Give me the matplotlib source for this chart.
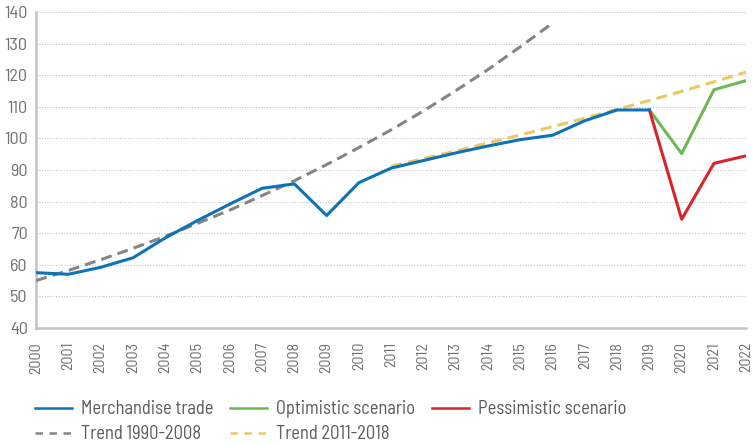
import matplotlib
matplotlib.use("Agg")
import matplotlib.pyplot as plt
from matplotlib.lines import Line2D

years = list(range(2000, 2023))
trade_years = list(range(2000, 2020))
trade = [57.5, 57.0, 59.2, 62.2, 68.5, 74.0, 79.2, 84.2, 85.6, 75.6, 86.0, 90.6,
         93.0, 95.4, 97.6, 99.6, 101.0, 105.6, 109.0, 109.0]
scen_years = [2019, 2020, 2021, 2022]
optimistic = [109.0, 95.2, 115.4, 118.3]
pessimistic = [109.0, 74.4, 92.1, 94.5]
trend1_years = list(range(2000, 2017))
trend1 = [55.0, 58.2, 61.6, 65.2, 69.0, 73.1, 77.3, 81.9, 86.6, 91.7, 97.1,
          102.7, 108.7, 115.1, 121.8, 129.0, 136.5]
trend2_years = list(range(2011, 2023))
trend2 = [91.2, 93.6, 96.0, 98.6, 101.1, 103.7, 106.4, 109.2, 112.0, 114.9, 117.9, 121.0]
labels = ['Merchandise trade', 'Optimistic scenario', 'Pessimistic scenario',
          'Trend 1990-2008', 'Trend 2011-2018']

plt.rcParams['font.family'] = ['Barlow Semi Condensed', 'DejaVu Sans']
plt.rcParams['font.weight'] = 'normal'

fig = plt.figure(figsize=(7.53, 4.45), dpi=100)
ax = fig.add_axes([0.048, 0.263, 0.943, 0.710])

blue = '#0C72BA'
green = '#6DB856'
red = '#D7252B'
grey = '#858585'
yellow = '#EDC862'
dash = (0, (3.6, 2.0))

ax.plot(trade_years, trade, color=blue, lw=2.2, zorder=5)
ax.plot(scen_years, optimistic, color=green, lw=2.2, zorder=4)
ax.plot(scen_years, pessimistic, color=red, lw=2.2, zorder=4)
ax.plot(trend1_years, trend1, color=grey, lw=2.2, ls=dash, zorder=3)
ax.plot(trend2_years, trend2, color=yellow, lw=2.2, ls=dash, zorder=3)

ax.set_xlim(2000, 2022)
ax.set_ylim(40, 140)
ax.set_yticks(range(40, 141, 10))
ax.set_xticks(years)
ax.set_xticklabels([str(y) for y in years], rotation=90)
ax.grid(axis='y', color='#C4C4C4', ls=(0, (1, 1.5)), lw=0.8)
ax.set_axisbelow(True)
for s in ['top', 'right']:
    ax.spines[s].set_visible(False)
for s in ['left', 'bottom']:
    ax.spines[s].set_color('#C3C3C3')
    ax.spines[s].set_linewidth(1.8)
ax.tick_params(axis='y', length=0, labelsize=13, colors='#707070', pad=6)
ax.tick_params(axis='x', length=0, labelsize=11.5, colors='#707070', pad=10)

ldash = (0, (3.0, 2.6))
h_trade = Line2D([], [], color=blue, lw=1.8)
h_opt = Line2D([], [], color=green, lw=1.8)
h_pes = Line2D([], [], color=red, lw=1.8)
h_t1 = Line2D([], [], color=grey, lw=1.8, ls=ldash)
h_t2 = Line2D([], [], color=yellow, lw=1.8, ls=ldash)
order = [h_trade, h_t1, h_opt, h_t2, h_pes]
olabels = [labels[0], labels[3], labels[1], labels[4], labels[2]]
leg = fig.legend(order, olabels,
                 ncol=3, loc='upper left', bbox_to_anchor=(0.047, 0.101),
                 frameon=False, fontsize=13.3, handlelength=2.0, handletextpad=0.48,
                 columnspacing=0.9, labelspacing=0.4, labelcolor='#5A5A5A',
                 borderpad=0, borderaxespad=0)

fig.savefig('out.png', dpi=100)
